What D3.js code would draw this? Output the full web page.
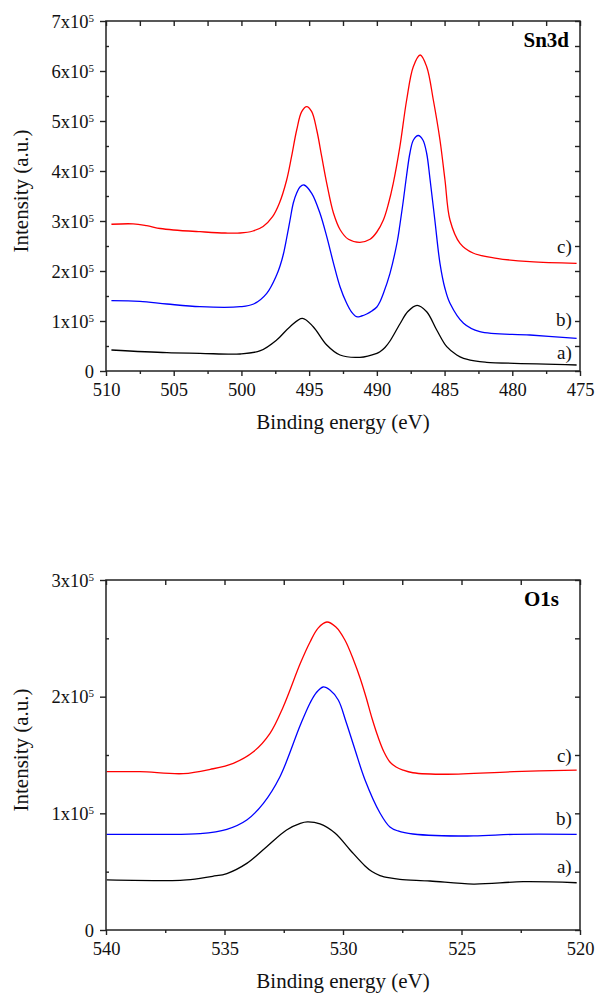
<!DOCTYPE html>
<meta charset="utf-8">
<style>
    body { margin: 0; background: #fff; }
    text { font-family: "Liberation Serif", "Tinos", "Times New Roman", serif; }
    .curve { fill: none; stroke-width: 1.3px; }
    .frame { fill: none; stroke: #222; stroke-width: 1.5px; }
    .axis path { display: none; }
    .axis line { stroke: #222; stroke-width: 1.4px; }
    .axis text { font-size: 18.5px; fill: #111; font-family: "Liberation Serif", "Tinos", "Times New Roman", serif; }
</style>
<body>
<script src="https://d3js.org/d3.v7.min.js"></script>
<script>
// ---- Sn3d panel data (binding energy in eV, intensity in counts) ----
var sn3dEnergyA = [509.6, 505.5, 503.06, 500.1, 498.6, 497.4, 496.41, 495.5, 494.7, 493.7, 492.72, 491.25, 490.0, 489.77, 489.4, 489.03, 488.3, 487.71, 487.03, 486.32, 485.58, 484.84, 484.1, 483.6, 482.4, 481.9, 475.25];
var sn3dA = [42000, 36600, 35400, 34000, 40600, 62000, 88600, 105400, 88600, 52000, 32000, 27400, 35400, 38600, 47000, 60000, 94000, 119000, 131400, 118600, 82000, 48600, 32000, 25400, 18600, 17400, 12000];

var sn3dEnergyB = [509.6, 507.5, 505.5, 503.06, 500.1, 499.1, 498.13, 497.4, 497.15, 496.9, 496.66, 496.41, 496.17, 495.92, 495.68, 495.38, 494.81, 494.2, 493.7, 493.2, 492.72, 492.23, 491.87, 491.5, 491.13, 490.75, 490.37, 490.0, 489.76, 489.52, 489.03, 488.5, 488.3, 488.05, 487.8, 487.55, 487.3, 486.94, 486.6, 486.32, 486.08, 485.71, 485.34, 484.97, 484.6, 483.6, 482.4, 478.7, 475.25];
var sn3dB = [140600, 139400, 134000, 128600, 128600, 134000, 155400, 192000, 210000, 234000, 266000, 302000, 336000, 356000, 368000, 372000, 355400, 315400, 268600, 215400, 168600, 135400, 118000, 108600, 110000, 114000, 120000, 128000, 139000, 155000, 195400, 258000, 292000, 340000, 392000, 437000, 462000, 471000, 462000, 435000, 385000, 300000, 215400, 165000, 135400, 95400, 78600, 72000, 65400];

var sn3dEnergyC = [509.6, 508, 507, 506, 505, 503.06, 501.2, 500.1, 499.15, 498.4, 497.7, 497.2, 496.66, 496.3, 495.92, 495.55, 495.18, 494.81, 494.44, 494.07, 493.7, 493.2, 492.7, 492.1, 491.25, 490.5, 490.0, 489.52, 489.15, 488.79, 488.3, 487.8, 487.31, 486.8, 486.32, 485.83, 485.34, 484.97, 484.6, 483.86, 482.9, 481.15, 478.7, 475.25];
var sn3dC = [293500, 294300, 290600, 285000, 282000, 278600, 276000, 276000, 280000, 289000, 308600, 335400, 382000, 428600, 482000, 518600, 528600, 518600, 482000, 428600, 375400, 315400, 282000, 263400, 257400, 263400, 278000, 302000, 334000, 375400, 448600, 542000, 608600, 632000, 608600, 542000, 462000, 382000, 302000, 255400, 236000, 225400, 218600, 215400];

// ---- O1s panel data ----
var o1sEnergyA = [539.97, 537.44, 536.74, 536.03, 535.5, 534.9, 534.06, 533.22, 532.38, 531.8, 531.5, 530.97, 530.34, 529.7, 529.07, 528.78, 528.44, 528.02, 527.6, 526.33, 524.5, 522.4, 520.14];
var o1sA = [42900, 42300, 42700, 44300, 46000, 48400, 57100, 71400, 85700, 91400, 92600, 90900, 83100, 68600, 54900, 50100, 46700, 44600, 43400, 42000, 39400, 41400, 40500];

var o1sEnergyB = [539.97, 538.1, 536.03, 534.9, 534.06, 533.36, 532.66, 531.8, 531.39, 531.14, 530.84, 530.55, 530.2, 529.87, 529.49, 529.07, 528.44, 528.02, 527.68, 527.05, 524.5, 522.8, 520.14];
var o1sB = [82000, 82000, 82600, 86300, 94300, 108600, 131400, 175700, 194600, 203100, 208300, 205700, 197100, 178300, 154300, 128600, 100300, 88300, 84900, 82300, 80600, 82000, 82000];

var o1sEnergyC = [539.97, 538.57, 536.74, 535.6, 534.63, 533.78, 533.08, 532.52, 531.8, 531.39, 531.05, 530.68, 530.3, 529.92, 529.54, 529.28, 529.03, 528.78, 528.52, 528.27, 528.02, 527.76, 527.47, 527.05, 525.62, 522.8, 520.14];
var o1sC = [135700, 135700, 134000, 137700, 142900, 152800, 168600, 191400, 228600, 246900, 258800, 264000, 259700, 248600, 230600, 216000, 199700, 181700, 165400, 152600, 144000, 139700, 137100, 134800, 133500, 135700, 137100];

// ---- axes ----
var sn3dXMajor = [510, 505, 500, 495, 490, 485, 480, 475];
var sn3dXMinor = [507.5, 502.5, 497.5, 492.5, 487.5, 482.5, 477.5];
var sn3dYMajor = [0, 1e5, 2e5, 3e5, 4e5, 5e5, 6e5, 7e5];
var sn3dYMinor = [0.5e5, 1.5e5, 2.5e5, 3.5e5, 4.5e5, 5.5e5, 6.5e5];

var o1sXMajor = [540, 535, 530, 525, 520];
var o1sXMinor = [537.5, 532.5, 527.5, 522.5];
var o1sYMajor = [0, 1e5, 2e5, 3e5];
var o1sYMinor = [0.5e5, 1.5e5, 2.5e5];

var seriesNames = ["a)", "b)", "c)"];
var seriesColors = ["#000000", "#0000ff", "#ff0000"];

// label anchors in data coordinates [energy, intensity]
var sn3dLabelPos = [[475.6, 23400], [475.6, 90000], [475.6, 236600]];
var o1sLabelPos = [[520.35, 49100], [520.35, 90000], [520.35, 144300]];

var svg = d3.select("body").append("svg")
    .attr("width", 596)
    .attr("height", 998);

function drawPanel(p) {
    var left = 106, right = 580;
    var x = d3.scaleLinear().domain(p.xDomain).range([left, right]);
    var y = d3.scaleLinear().domain(p.yDomain).range([p.bottom, p.top]);
    var g = svg.append("g");

    // curves
    var line = d3.line()
        .x(function(d) { return x(d[0]); })
        .y(function(d) { return y(d[1]); })
        .curve(d3.curveCatmullRom.alpha(0.5));

    p.series.forEach(function(s, i) {
        var pts = s.e.map(function(e, j) { return [e, s.v[j]]; });
        g.append("path")
            .datum(pts)
            .attr("class", "curve")
            .attr("stroke", seriesColors[i])
            .attr("d", line);
    });

    // bottom axis
    g.append("g").attr("class", "axis")
        .attr("transform", "translate(0," + p.bottom + ")")
        .call(d3.axisBottom(x).tickValues(p.xMajor).tickSize(5).tickPadding(7).tickFormat(d3.format("d")));
    g.append("g").attr("class", "axis")
        .attr("transform", "translate(0," + p.bottom + ")")
        .call(d3.axisBottom(x).tickValues(p.xMinor).tickSize(3).tickFormat(""));
    // top axis (inward ticks)
    g.append("g").attr("class", "axis")
        .attr("transform", "translate(0," + p.top + ")")
        .call(d3.axisTop(x).tickValues(p.xMajor.concat(p.xMinor)).tickSize(-5).tickFormat(""));

    // left axis
    var yl = g.append("g").attr("class", "axis")
        .attr("transform", "translate(" + left + ",0)")
        .call(d3.axisLeft(y).tickValues(p.yMajor).tickSize(6).tickPadding(6).tickFormat(""));
    yl.selectAll(".tick text").each(function(d) {
        var t = d3.select(this).attr("dy", "0.34em");
        if (d === 0) { t.text("0"); return; }
        t.append("tspan").text((d / 1e5) + "x10");
        t.append("tspan").attr("dy", "-0.55em").style("font-size", "11px").text("5");
    });
    g.append("g").attr("class", "axis")
        .attr("transform", "translate(" + left + ",0)")
        .call(d3.axisLeft(y).tickValues(p.yMinor).tickSize(-3).tickFormat(""));
    // right axis (inward ticks)
    g.append("g").attr("class", "axis")
        .attr("transform", "translate(" + right + ",0)")
        .call(d3.axisRight(y).tickValues(p.yMajor.concat(p.yMinor)).tickSize(-5).tickFormat(""));

    // frame
    g.append("rect").attr("class", "frame")
        .attr("x", left).attr("y", p.top)
        .attr("width", right - left).attr("height", p.bottom - p.top);

    // series labels
    p.labels.forEach(function(pos, i) {
        g.append("text")
            .attr("x", x(pos[0])).attr("y", y(pos[1]))
            .attr("text-anchor", "end")
            .style("font-size", "19px")
            .style("fill", "#111")
            .text(seriesNames[i]);
    });

    // panel title
    g.append("text")
        .attr("x", p.titleX).attr("y", p.top + 26)
        .attr("text-anchor", "end")
        .style("font-size", "21px")
        .style("font-weight", "bold")
        .text(p.title);

    // axis titles
    g.append("text")
        .attr("x", (left + right) / 2).attr("y", p.bottom + 58)
        .attr("text-anchor", "middle")
        .style("font-size", "21px")
        .style("fill", "#111")
        .text("Binding energy (eV)");
    g.append("text")
        .attr("transform", "translate(28," + ((p.top + p.bottom) / 2 - 5) + ") rotate(-90)")
        .attr("text-anchor", "middle")
        .style("font-size", "21px")
        .style("fill", "#111")
        .text("Intensity (a.u.)");
}

drawPanel({
    top: 21, bottom: 371,
    xDomain: [510, 475], yDomain: [0, 7e5],
    xMajor: sn3dXMajor, xMinor: sn3dXMinor,
    yMajor: sn3dYMajor, yMinor: sn3dYMinor,
    series: [
        { e: sn3dEnergyA, v: sn3dA },
        { e: sn3dEnergyB, v: sn3dB },
        { e: sn3dEnergyC, v: sn3dC }
    ],
    labels: sn3dLabelPos,
    title: "Sn3d", titleX: 569
});

drawPanel({
    top: 580, bottom: 930,
    xDomain: [540, 520], yDomain: [0, 3e5],
    xMajor: o1sXMajor, xMinor: o1sXMinor,
    yMajor: o1sYMajor, yMinor: o1sYMinor,
    series: [
        { e: o1sEnergyA, v: o1sA },
        { e: o1sEnergyB, v: o1sB },
        { e: o1sEnergyC, v: o1sC }
    ],
    labels: o1sLabelPos,
    title: "O1s", titleX: 559
});
</script>
</body>
